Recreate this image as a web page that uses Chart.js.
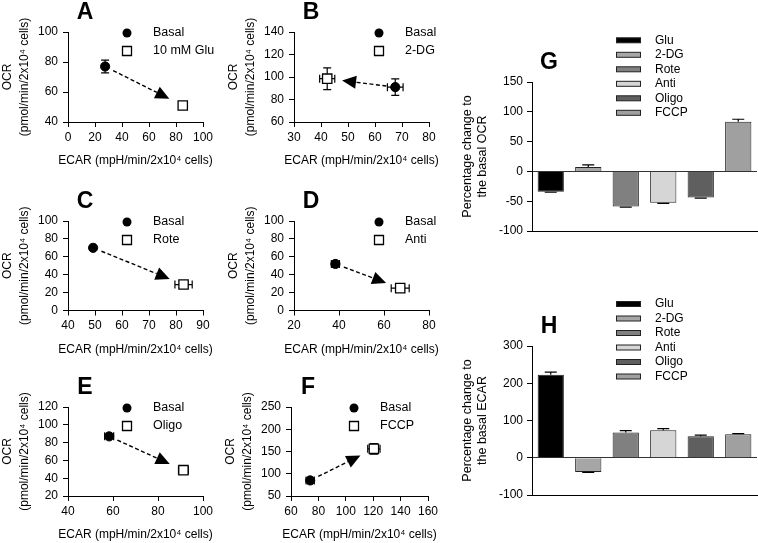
<!DOCTYPE html>
<html>
<head>
<meta charset="utf-8">
<script src="https://cdn.jsdelivr.net/npm/chart.js@4.4.0/dist/chart.umd.min.js"></script>
<style>
body { margin: 0; background: #fff; }
#wrap { position: relative; width: 758px; height: 543px; }
canvas { position: absolute; left: 0; top: 0; }
</style>
</head>
<body>
<div id="wrap">
<canvas id="cA" width="758" height="543"></canvas>
<canvas id="cB" width="758" height="543"></canvas>
<canvas id="cC" width="758" height="543"></canvas>
<canvas id="cD" width="758" height="543"></canvas>
<canvas id="cE" width="758" height="543"></canvas>
<canvas id="cF" width="758" height="543"></canvas>
<canvas id="cG" width="758" height="543"></canvas>
<canvas id="cH" width="758" height="543"></canvas>
</div>
<script>
Chart.defaults.font.family = '"Liberation Sans", Arial, sans-serif';
Chart.defaults.color = '#000';

var xTitle = 'ECAR (mpH/min/2x10\u2074 cells)';
var yTitle = ['OCR', '(pmol/min/2x10\u2074 cells)'];

// scatter panels A-F : basal vs treatment
var panelNames = ['A', 'B', 'C', 'D', 'E', 'F'];
var treatNames = ['10 mM Glu', '2-DG', 'Rote', 'Anti', 'Oligo', 'FCCP'];
var basalX = [27.5, 67.5, 49.3, 38.4, 58.3, 74];
var basalY = [77, 91, 70, 52, 87, 85];
var basalXErr = [0.8, 2.9, 0.8, 1.8, 2, 3];
var basalYErr = [4.2, 7.3, 1.5, 2.5, 2, 4];
var treatX = [85, 42.3, 82.8, 67.2, 91.3, 120.5];
var treatY = [51, 98.5, 29, 25, 49, 156];
var treatXErr = [2, 2.8, 3.2, 4, 2.2, 4.5];
var treatYErr = [1.5, 9.7, 2, 1.5, 2.5, 12];
var xMins = [0, 30, 40, 20, 40, 60];
var xMaxs = [100, 80, 90, 80, 100, 160];
var xSteps = [20, 10, 10, 20, 20, 20];
var yMins = [40, 60, 0, 0, 20, 50];
var yMaxs = [100, 140, 100, 100, 120, 250];
var ySteps = [20, 20, 20, 20, 20, 50];

// bar panels G, H : percentage change to basal
var barLabels = ['Glu', '2-DG', 'Rote', 'Anti', 'Oligo', 'FCCP'];
var ocrChange = [-34, 7.5, -59, -52.5, -44, 83.5];
var ocrErr = [1, 3.5, 1, 1, 1, 4];
var ecarChange = [223, -38, 68, 74, 58, 63];
var ecarErr = [7, 1, 5, 4, 3, 2];
var ocrTicks = [-100, -50, 0, 50, 100, 150];
var ecarTicks = [-100, 0, 100, 200, 300];

var barColors = ['#000000', '#a6a6a6', '#808080', '#d6d6d6', '#5f5f5f', '#a0a0a0'];

// plot boxes (pixels) for the scatter panels
var boxes = [
    {l: 68, r: 203, t: 32, b: 122, legX: 127},
    {l: 294, r: 429, t: 32, b: 122, legX: 379},
    {l: 68, r: 203, t: 221, b: 310.5, legX: 127},
    {l: 294, r: 429, t: 221, b: 310.5, legX: 379},
    {l: 68, r: 203, t: 407, b: 496, legX: 127},
    {l: 291, r: 428, t: 407, b: 496, legX: 354}
];

var FONT = '"Liberation Sans", Arial, sans-serif';

function fixWidth(w) {
    return function (s) { s.width = w; s.paddingTop = 0; s.paddingBottom = 0; };
}
function fixHeight(h) {
    return function (s) { s.height = h; s.paddingLeft = 0; s.paddingRight = 0; };
}

var letterPlugin = {
    id: 'letter',
    afterDraw: function (chart, args, opts) {
        var ctx = chart.ctx, a = chart.chartArea;
        ctx.save();
        ctx.font = 'bold 23px ' + FONT;
        ctx.fillStyle = '#000';
        ctx.textAlign = 'center';
        ctx.textBaseline = 'middle';
        ctx.fillText(opts.text, a.left + 17, a.top - 19);
        ctx.restore();
    }
};

// axis titles drawn by hand so that they are not squeezed to the plot size
var titlePlugin = {
    id: 'axisTitles',
    afterDraw: function (chart) {
        var ctx = chart.ctx, a = chart.chartArea;
        ctx.save();
        ctx.font = '12px ' + FONT;
        ctx.fillStyle = '#000';
        ctx.textAlign = 'center';
        ctx.textBaseline = 'middle';
        ctx.fillText(xTitle, (a.left + a.right) / 2, a.bottom + 39);
        ctx.translate(a.left - 60, (a.top + a.bottom) / 2);
        ctx.rotate(-Math.PI / 2);
        ctx.fillText(yTitle[0], 0, 0);
        ctx.fillText(yTitle[1], 0, 17);
        ctx.restore();
    }
};

var errPlugin = {
    id: 'xyErr',
    beforeDatasetsDraw: function (chart) {
        var ctx = chart.ctx, xs = chart.scales.x, ys = chart.scales.y;
        ctx.save();
        ctx.strokeStyle = '#000';
        ctx.lineWidth = 1.2;
        chart.data.datasets.forEach(function (ds) {
            ds.data.forEach(function (pt, j) {
                var x = xs.getPixelForValue(pt.x), y = ys.getPixelForValue(pt.y);
                var xl = xs.getPixelForValue(pt.x - ds.xErr[j]), xr = xs.getPixelForValue(pt.x + ds.xErr[j]);
                var yt = ys.getPixelForValue(pt.y + ds.yErr[j]), yb = ys.getPixelForValue(pt.y - ds.yErr[j]);
                ctx.beginPath();
                ctx.moveTo(xl, y); ctx.lineTo(xr, y);
                ctx.moveTo(xl, y - 4); ctx.lineTo(xl, y + 4);
                ctx.moveTo(xr, y - 4); ctx.lineTo(xr, y + 4);
                ctx.moveTo(x, yt); ctx.lineTo(x, yb);
                ctx.moveTo(x - 4, yt); ctx.lineTo(x + 4, yt);
                ctx.moveTo(x - 4, yb); ctx.lineTo(x + 4, yb);
                ctx.stroke();
            });
        });
        ctx.restore();
    }
};

var arrowPlugin = {
    id: 'arrow',
    afterDatasetsDraw: function (chart) {
        var ctx = chart.ctx;
        var p0 = chart.getDatasetMeta(0).data[0], p1 = chart.getDatasetMeta(1).data[0];
        var dx = p1.x - p0.x, dy = p1.y - p0.y, len = Math.sqrt(dx * dx + dy * dy);
        var ux = dx / len, uy = dy / len;
        var sx = p0.x + ux * 9, sy = p0.y + uy * 9;
        var tx = p1.x - ux * 15, ty = p1.y - uy * 15;
        var bx = tx - ux * 14, by = ty - uy * 14, hw = 6.5;
        ctx.save();
        ctx.strokeStyle = '#000';
        ctx.fillStyle = '#000';
        ctx.lineWidth = 1.4;
        ctx.setLineDash([4, 2.5]);
        ctx.beginPath();
        ctx.moveTo(sx, sy);
        ctx.lineTo(bx, by);
        ctx.stroke();
        ctx.setLineDash([]);
        ctx.beginPath();
        ctx.moveTo(tx, ty);
        ctx.lineTo(bx - uy * hw, by + ux * hw);
        ctx.lineTo(bx + uy * hw, by - ux * hw);
        ctx.closePath();
        ctx.fill();
        ctx.restore();
    }
};

var scatterLegend = {
    id: 'scatterLegend',
    afterDraw: function (chart, args, opts) {
        var ctx = chart.ctx, top = chart.chartArea.top;
        ctx.save();
        ctx.font = '12.5px ' + FONT;
        ctx.textBaseline = 'middle';
        ctx.fillStyle = '#000';
        chart.data.datasets.forEach(function (ds, i) {
            var y = top + 1 + i * 18, x = opts.x;
            ctx.beginPath();
            if (ds.pointStyle === 'circle') {
                ctx.arc(x, y, 4.5, 0, Math.PI * 2);
                ctx.fillStyle = '#000';
                ctx.fill();
            } else {
                ctx.fillStyle = '#fff';
                ctx.strokeStyle = '#000';
                ctx.lineWidth = 1.3;
                ctx.rect(x - 4.5, y - 4.5, 9, 9);
                ctx.fill();
                ctx.stroke();
            }
            ctx.fillStyle = '#000';
            ctx.fillText(ds.label, x + 26, y);
        });
        ctx.restore();
    }
};

function scatterChart(i) {
    var b = boxes[i];
    var yW = 68, xH = 46;
    return new Chart(document.getElementById('c' + panelNames[i]), {
        type: 'scatter',
        data: {
            datasets: [{
                label: 'Basal',
                data: [{x: basalX[i], y: basalY[i]}],
                xErr: [basalXErr[i]], yErr: [basalYErr[i]],
                pointStyle: 'circle', pointRadius: 4.6,
                backgroundColor: '#000', borderColor: '#000', borderWidth: 1
            }, {
                label: treatNames[i],
                data: [{x: treatX[i], y: treatY[i]}],
                xErr: [treatXErr[i]], yErr: [treatYErr[i]],
                pointStyle: 'rect', pointRadius: 6.6,
                backgroundColor: '#fff', borderColor: '#000', borderWidth: 1.3
            }]
        },
        options: {
            responsive: false,
            animation: false,
            devicePixelRatio: 1,
            layout: {padding: {left: b.l - yW, right: 758 - b.r, top: b.t, bottom: 543 - b.b - xH}},
            plugins: {
                legend: {display: false},
                tooltip: {enabled: false},
                letter: {text: panelNames[i]},
                scatterLegend: {x: b.legX}
            },
            scales: {
                x: {
                    type: 'linear', min: xMins[i], max: xMaxs[i],
                    ticks: {stepSize: xSteps[i], font: {size: 12}, padding: 3},
                    grid: {drawOnChartArea: false, tickColor: '#000', tickLength: 5},
                    border: {color: '#000', width: 1},
                    afterFit: fixHeight(xH)
                },
                y: {
                    type: 'linear', min: yMins[i], max: yMaxs[i],
                    ticks: {stepSize: ySteps[i], font: {size: 12}, padding: 5},
                    grid: {drawOnChartArea: false, tickColor: '#000', tickLength: 5},
                    border: {color: '#000', width: 1},
                    afterFit: fixWidth(yW)
                }
            }
        },
        plugins: [errPlugin, arrowPlugin, letterPlugin, scatterLegend, titlePlugin]
    });
}

var barErrPlugin = {
    id: 'barErr',
    afterDatasetsDraw: function (chart) {
        var ctx = chart.ctx, ys = chart.scales.y;
        var ds = chart.data.datasets[0], meta = chart.getDatasetMeta(0);
        ctx.save();
        ctx.strokeStyle = '#000';
        ctx.lineWidth = 1.2;
        meta.data.forEach(function (bar, j) {
            var v = ds.data[j];
            var end = ys.getPixelForValue(v >= 0 ? v + ds.errs[j] : v - ds.errs[j]);
            ctx.beginPath();
            ctx.moveTo(bar.x, bar.y);
            ctx.lineTo(bar.x, end);
            ctx.moveTo(bar.x - 6, end);
            ctx.lineTo(bar.x + 6, end);
            ctx.stroke();
        });
        ctx.restore();
    }
};

var barLegend = {
    id: 'barLegend',
    afterDraw: function (chart, args, opts) {
        var ctx = chart.ctx, ds = chart.data.datasets[0];
        ctx.save();
        ctx.font = '12px ' + FONT;
        ctx.textBaseline = 'middle';
        chart.data.labels.forEach(function (lab, i) {
            var y = opts.top + i * 14.5;
            ctx.fillStyle = ds.backgroundColor[i];
            ctx.strokeStyle = '#222';
            ctx.lineWidth = 1;
            ctx.fillRect(616, y - 2.5, 25, 5);
            ctx.strokeRect(616.5, y - 2.5, 24, 5);
            ctx.fillStyle = '#000';
            ctx.fillText(lab, 655, y);
        });
        ctx.restore();
    }
};

function barChart(id, letter, values, errs, ticks, title2, top, bottom, legTop) {
    var left = 460, axisX = 532;
    return new Chart(document.getElementById(id), {
        type: 'bar',
        data: {
            labels: barLabels,
            datasets: [{
                data: values,
                errs: errs,
                backgroundColor: barColors,
                borderColor: '#222',
                borderWidth: 1,
                barPercentage: 0.7,
                categoryPercentage: 1
            }]
        },
        options: {
            responsive: false,
            animation: false,
            devicePixelRatio: 1,
            layout: {padding: {left: left, right: 1, top: top, bottom: 543 - bottom}},
            plugins: {
                legend: {display: false},
                tooltip: {enabled: false},
                letter: {text: letter},
                barLegend: {top: legTop}
            },
            scales: {
                x: {
                    ticks: {display: false},
                    grid: {display: false, drawTicks: false},
                    border: {color: '#000', width: 1},
                    afterFit: fixHeight(0)
                },
                y: {
                    min: ticks[0], max: ticks[ticks.length - 1],
                    afterBuildTicks: function (s) {
                        s.ticks = ticks.map(function (v) { return {value: v}; });
                    },
                    ticks: {font: {size: 12}, padding: 4},
                    grid: {
                        color: function (c) { return c.tick && c.tick.value === 0 ? '#333' : 'rgba(0,0,0,0)'; },
                        tickColor: '#000', tickLength: 5
                    },
                    border: {color: '#000', width: 1},
                    title: {display: true, text: ['Percentage change to', title2], font: {size: 12.5, lineHeight: 15 / 12.5}, padding: 0},
                    afterFit: fixWidth(axisX - left)
                }
            }
        },
        plugins: [barErrPlugin, letterPlugin, barLegend]
    });
}

for (var i = 0; i < 6; i++) {
    scatterChart(i);
}
barChart('cG', 'G', ocrChange, ocrErr, ocrTicks, 'the basal OCR', 82, 231, 40.3);
barChart('cH', 'H', ecarChange, ecarErr, ecarTicks, 'the basal ECAR', 346, 495, 304);
</script>
</body>
</html>
